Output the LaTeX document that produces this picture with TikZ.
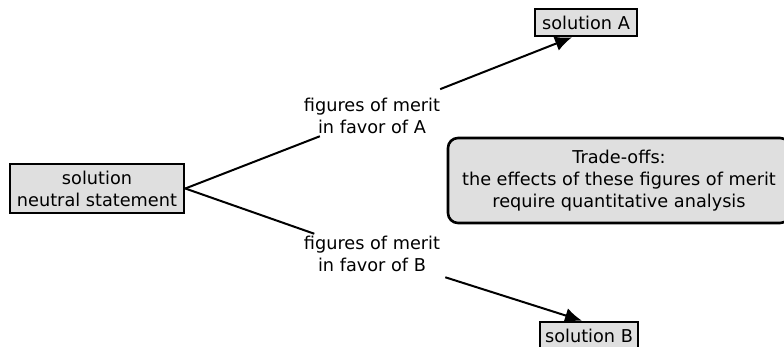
\documentclass[tikz,border=0pt]{standalone}
\usepackage{fontspec}
\setmainfont{DejaVu Sans}
\usetikzlibrary{shapes, arrows.meta}
\tikzstyle{block} =
        [
                rectangle,
                draw,
                line width = 1.3pt,
                fill = gray!25,
                align = center,
                inner sep = 0pt
        ]
\tikzstyle{tradeoff} =
        [
                block,
                rounded corners = 5pt,
                minimum width = 171pt,
                minimum height = 42.5pt
        ]
\tikzstyle{merit} =
        [
                align = center,
                inner sep = 1pt
        ]
\tikzstyle{line} =
        [
                draw,
                line width = 1pt,
                -{Latex[length = 8.5pt, width = 7.5pt]}
        ]

\begin{document}
\begin{tikzpicture}[x = 0.5pt, y = -0.5pt, font = \fontsize{8.85}{11}\selectfont]
        \useasboundingbox (0,0) rectangle (784,347);
        \node [block, minimum width = 87pt, minimum height = 24.5pt] (statement) at (97,188.5) {solution\\neutral statement};
        \node [merit] (meritA) at (372,116) {figures of merit\\in favor of A};
        \node [merit] (meritB) at (372,254) {figures of merit\\in favor of B};
        \node [block, minimum width = 51pt, minimum height = 13.5pt] (solA) at (586,22.5) {solution A};
        \node [block, minimum width = 49pt, minimum height = 13.5pt] (solB) at (589,335.5) {solution B};
        \node [tradeoff] (tradeoffs) at (619,180.5) {Trade-offs:\\the effects of these figures of merit\\require quantitative analysis};

        \path [draw, line width = 1pt] (statement.east) -- (meritA);
        \path [draw, line width = 1pt] (statement.east) -- (meritB);
        \path [line, shorten <= 9pt] (meritA) -- ([xshift = -7pt]solA.south);
        \path [line, shorten <= 5pt] (meritB) -- ([xshift = -3.5pt]solB.north);
\end{tikzpicture}
\end{document}
